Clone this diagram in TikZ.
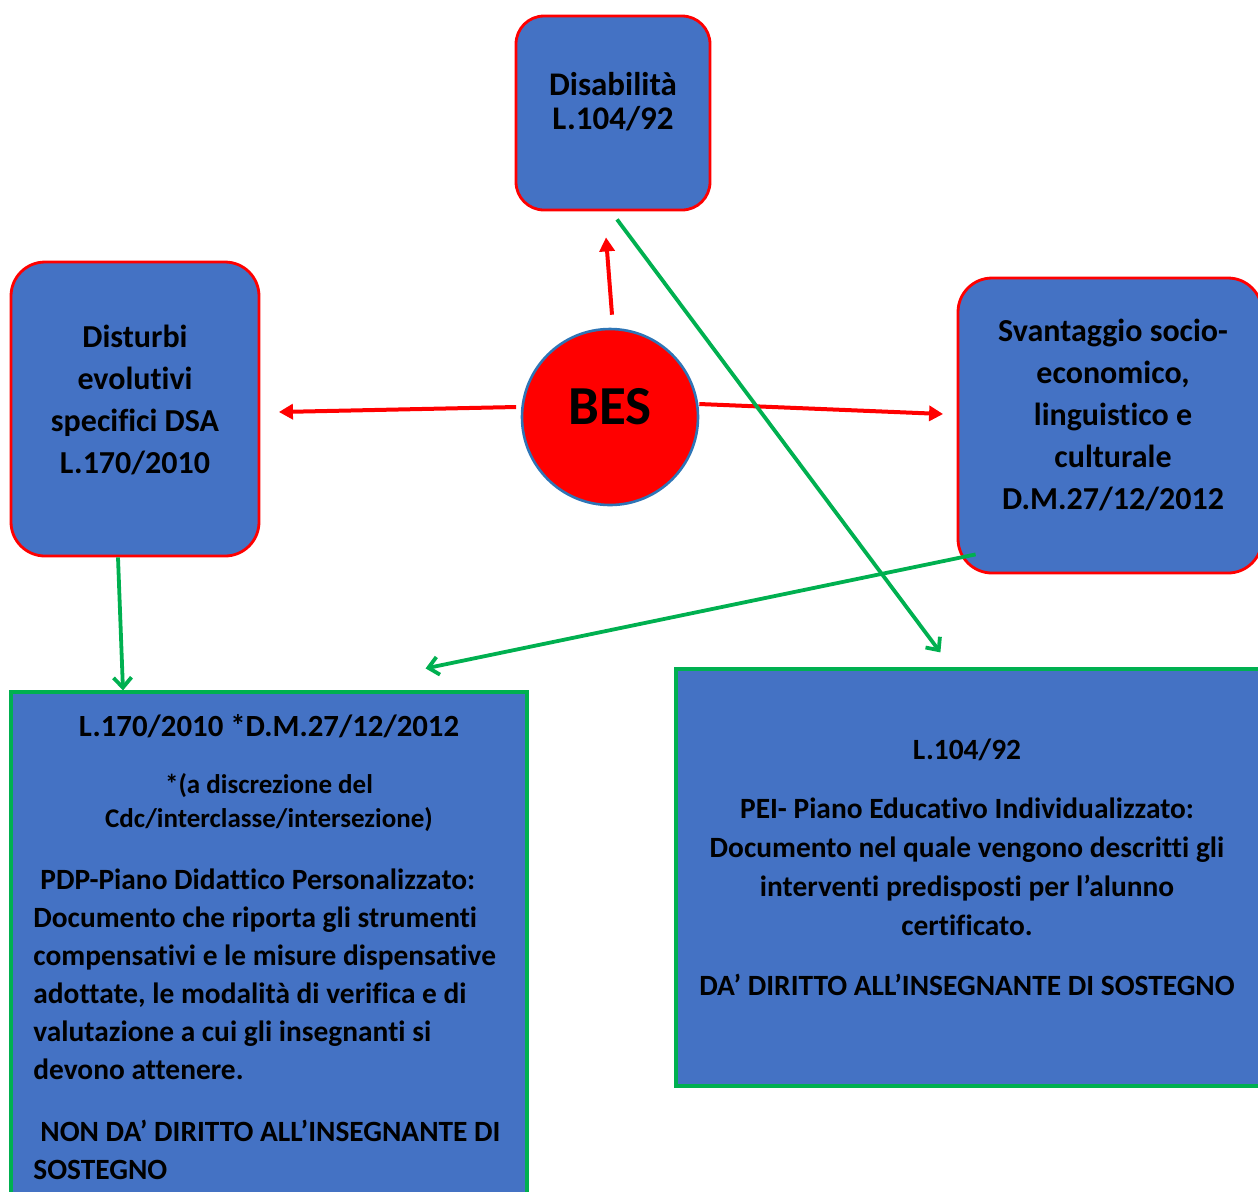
\documentclass[tikz,border=0pt]{standalone}
\usepackage{fontspec}
\setmainfont{Carlito}[Ligatures={NoCommon}]
\usetikzlibrary{shapes, positioning, arrows.meta, calc}
\definecolor{boxblue}{HTML}{4472C4}
\definecolor{besred}{HTML}{FF0000}
\definecolor{lawgreen}{HTML}{00B050}
\definecolor{ringblue}{HTML}{2E75B6}

\begin{document}
\begin{tikzpicture}[
    x=0.5pt, y=-0.5pt,
    area/.style={rectangle, rounded corners=17pt, fill=boxblue, draw=besred, line width=1.4pt, inner sep=0pt},
    doc/.style={rectangle, fill=boxblue, draw=lawgreen, line width=1.6pt, inner sep=0pt},
    txt/.style={inner sep=0pt, align=center, font=\bfseries\fontsize{16}{21}\selectfont},
    redarr/.style={draw=besred, line width=2pt, -{Triangle[length=7pt, width=7.5pt]}},
    greenarr/.style={draw=lawgreen, line width=1.9pt, -{Straight Barb[length=5pt, width=9pt]}}
]
    \useasboundingbox (0,0) rectangle (1258,1191);
    \clip (0,0) rectangle (1258,1191);

    % --- BOXES ---
    \node[area, rounded corners=14pt, minimum width=97pt, minimum height=97pt] (dis) at (613,113) {};
    \node[area, minimum width=124pt, minimum height=147pt] (dsa) at (135,409) {};
    \node[area, minimum width=152pt, minimum height=147.5pt] (sva) at (1110,425.5) {};
    \node[circle, fill=besred, draw=ringblue, line width=1.3pt, minimum size=88pt, inner sep=0pt] (bes) at (610,417) {};
    \node[doc, minimum width=258pt, minimum height=254pt] (pdp) at (269,946) {};
    \node[doc, minimum width=294.5pt, minimum height=208.5pt] (pei) at (970.5,877.5) {};

    % --- TEXTS ---
    \node[txt, font=\bfseries\fontsize{16.5}{17}\selectfont] (distxt) at (613,102) {Disabilità\\L.104/92};
    \node[txt] (dsatxt) at (135,400) {Disturbi\\evolutivi\\specifici DSA\\L.170/2010};
    \node[txt] (svatxt) at (1113,415) {Svantaggio socio-\\economico,\\linguistico e\\culturale\\D.M.27/12/2012};
    \node[txt, font=\bfseries\fontsize{27.5}{34}\selectfont] (bestxt) at (610,407) {BES};

    \node[txt, font=\bfseries\fontsize{15.4}{18}\selectfont] (pdptitle) at (269,726) {L.170/2010 *D.M.27/12/2012};
    \node[txt, font=\bfseries\fontsize{13.5}{17}\selectfont] (pdpnote) at (269,803) {*(a discrezione del\\Cdc/interclasse/intersezione)};
    \node[txt, align=left, anchor=west, font=\bfseries\fontsize{14.7}{19}\selectfont] (pdpbody) at (33,974.5)
        {\hspace*{3.5pt}PDP-Piano Didattico Personalizzato:\\Documento che riporta gli strumenti\\compensativi e le misure dispensative\\adottate, le modalità di verifica e di\\valutazione a cui gli insegnanti si\\devono attenere.};
    \node[txt, align=left, anchor=west, font=\bfseries\fontsize{14.7}{19}\selectfont] (pdpnot) at (33,1150)
        {\hspace*{3.5pt}NON DA’ DIRITTO ALL’INSEGNANTE DI\\SOSTEGNO};

    \node[txt, font=\bfseries\fontsize{14.7}{19.5}\selectfont] (peititle) at (967,750) {L.104/92};
    \node[txt, font=\bfseries\fontsize{14.7}{19.5}\selectfont] (peibody) at (967,867)
        {PEI- Piano Educativo Individualizzato:\\Documento nel quale vengono descritti gli\\interventi predisposti per l’alunno\\certificato.};
    \node[txt, font=\bfseries\fontsize{14.7}{19.5}\selectfont] (peiyes) at (967,985) {DA’ DIRITTO ALL’INSEGNANTE DI SOSTEGNO};

    % --- ARROWS ---
    \draw[redarr] ($(bes.north)+(2,-13)$) -- ($(dis.south)+(-7,26)$);
    \draw[redarr] ($(bes.west)+(-4.5,-10)$) -- ($(dsa.east)+(18.5,3)$);
    \draw[redarr] ($(bes.east)+(0,-13)$) -- ($(sva.west)+(-13.5,-11.5)$);
    \draw[greenarr] ($(dsa.south)+(-17,0)$) -- ($(pdp.north)+(-146,0)$);
    \draw[greenarr] ($(sva.south west)+(19,-20)$) -- ($(pdp.north east)+(-103,-22)$);
    \draw[greenarr] ($(dis.south)+(4,8)$) -- ($(pei.north west)+(266,-15)$);
\end{tikzpicture}
\end{document}
